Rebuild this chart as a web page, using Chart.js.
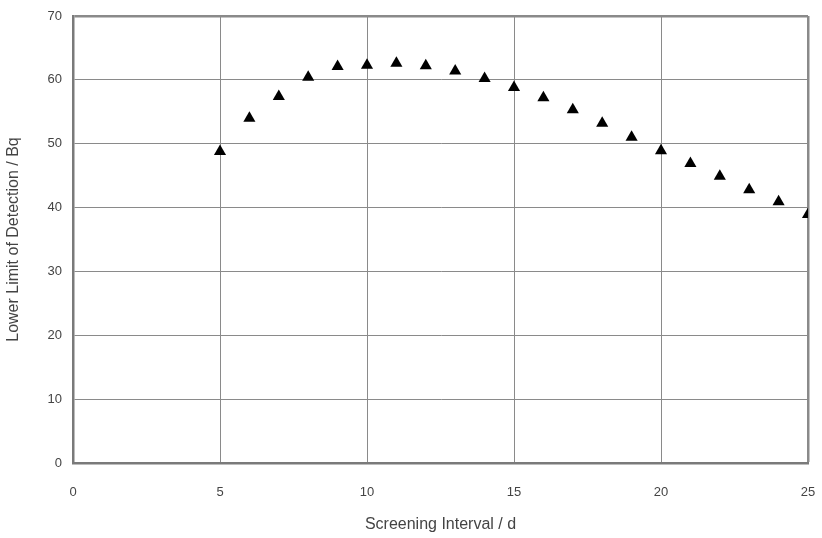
<!DOCTYPE html>
<html>
<head>
<meta charset="utf-8">
<script src="https://cdn.jsdelivr.net/npm/chart.js@4/dist/chart.umd.min.js"></script>
<style>
  body { margin: 0; background: #fff; }
  #wrap { width: 822px; height: 538px; }
</style>
</head>
<body>
<div id="wrap"><canvas id="myChart" width="822" height="538"></canvas></div>
<script>
// screening interval (days) vs lower limit of detection (Bq)
const intervals = [5, 6, 7, 8, 9, 10, 11, 12, 13, 14, 15, 16, 17, 18, 19, 20, 21, 22, 23, 24, 25];
const lld = [48.8, 54.0, 57.4, 60.4, 62.1, 62.3, 62.6, 62.2, 61.4, 60.2, 58.8, 57.2, 55.3, 53.2, 51.0, 48.9, 46.9, 44.9, 42.8, 40.9, 38.9];
const xTicks = [0, 5, 10, 15, 20, 25];
const yTicks = [0, 10, 20, 30, 40, 50, 60, 70];

const points = intervals.map((d, i) => ({ x: d, y: lld[i] }));

const ctx = document.getElementById('myChart');

new Chart(ctx, {
  type: 'scatter',
  data: {
    datasets: [{
      label: 'LLD',
      data: points,
      pointStyle: 'triangle',
      pointRadius: 7,
      pointBackgroundColor: '#000',
      pointBorderColor: '#000',
      pointBorderWidth: 0
    }]
  },
  options: {
    responsive: false,
    animation: false,
    layout: { padding: { top: 16, right: 14, left: 0, bottom: 0 } },
    plugins: {
      legend: { display: false },
      tooltip: { enabled: false }
    },
    scales: {
      x: {
        type: 'linear',
        min: 0,
        max: 25,
        afterBuildTicks: s => { s.ticks = xTicks.map(v => ({ value: v })); },
        afterFit: s => { s.height = 75; s.paddingLeft = 0; s.paddingRight = 0; },
        grid: {
          color: '#8a8a8a',
          lineWidth: c => (c.tick && c.tick.value === 25 ? 2.5 : 1),
          drawTicks: false
        },
        border: { color: '#7a7a7a', width: 2.5 },
        ticks: {
          padding: 22,
          color: '#444',
          font: { family: 'Liberation Sans', size: 13 }
        },
        title: {
          display: true,
          text: 'Screening Interval / d',
          color: '#444',
          padding: { top: 6 },
          font: { family: 'Liberation Sans', size: 16 }
        }
      },
      y: {
        min: 0,
        max: 70,
        afterBuildTicks: s => { s.ticks = yTicks.map(v => ({ value: v })); },
        afterFit: s => { s.width = 73; s.paddingTop = 0; s.paddingBottom = 0; },
        grid: {
          color: '#8a8a8a',
          lineWidth: c => (c.tick && c.tick.value === 70 ? 2.5 : 1),
          drawTicks: false
        },
        border: { color: '#7a7a7a', width: 2.5 },
        ticks: {
          padding: 11,
          color: '#444',
          font: { family: 'Liberation Sans', size: 13 }
        },
        title: {
          display: true,
          text: 'Lower Limit of Detection / Bq',
          color: '#444',
          padding: { bottom: 6 },
          font: { family: 'Liberation Sans', size: 16 }
        }
      }
    }
  }
});
</script>
</body>
</html>
